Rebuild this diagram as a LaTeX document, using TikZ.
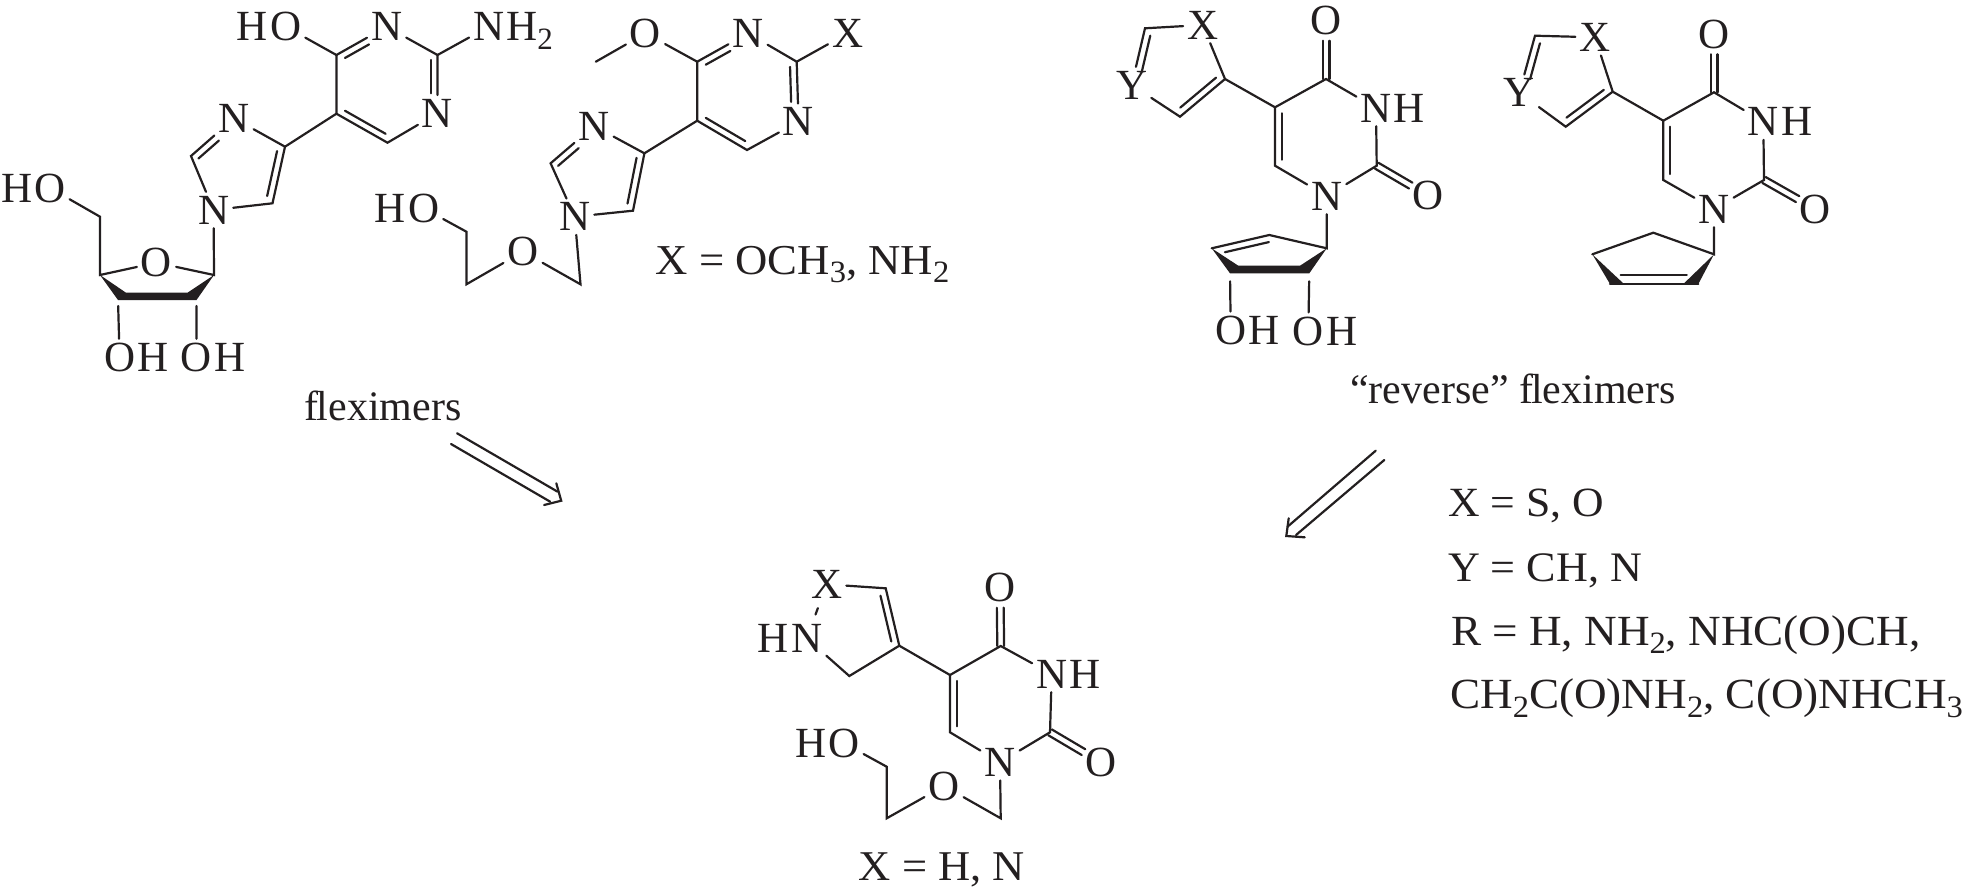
\documentclass[tikz,border=0pt]{standalone}
\usepackage{fontspec}
\usepackage{xcolor}
\usetikzlibrary{calc}
\setmainfont{Liberation Serif}
\newfontfamily\capsfamily[FakeStretch=1.05]{Liberation Serif}
\definecolor{chemink}{RGB}{35,31,32}
\newcommand{\chemfont}{\fontsize{21.5}{24}\selectfont}
\newcommand{\capsfont}[1]{\capsfamily\fontsize{#1}{24}\selectfont}
\newcommand{\chemsub}[1]{\raisebox{-4.3pt}{\fontsize{15.5}{16}\selectfont #1}}
% second line of a ring double bond: from, to, side angle, shorten at from, shorten at to
\newcommand{\dbond}[5]{\draw [shorten <=#4pt,shorten >=#5pt] ($(#1)!3.4pt!#3:(#2)$) -- ($(#2)!3.4pt!-#3:(#1)$);}
% carbonyl, two lines either side of the axis
\newcommand{\cbond}[2]{\draw [shorten >=10pt] ($(#1)!1.7pt!90:(#2)$) -- ($(#2)!1.7pt!-90:(#1)$);
\draw [shorten >=10pt] ($(#1)!1.7pt!-90:(#2)$) -- ($(#2)!1.7pt!90:(#1)$);}

\begin{document}
\begin{tikzpicture}[x=0.5pt,y=0.5pt,line width=1.1pt,line cap=round,color=chemink]
\tikzstyle{every node}+=[inner sep=1.5pt,font=\chemfont]
\tikzstyle{hleft}=[inner sep=0pt,anchor=base east]
\tikzstyle{hright}=[inner sep=0pt,anchor=base west]
\tikzstyle{caption}=[inner sep=0pt,anchor=base west]
\useasboundingbox (0,0) rectangle (1963,-894);

% fleximer with ribose
\node (aOa) at (285.7,-26.7) {O};
\node [hleft] (aHa) at ([xshift=1.5pt]aOa.base west) {H};
\node (aNa) at (386.6,-26.7) {N};
\node (aNb) at (488.7,-26.7) {N};
\node [hright] (aHb) at ([xshift=-1.5pt]aNb.base east) {H\chemsub{2}};
\node (aNc) at (437.5,-113.3) {N};
\coordinate (aC4) at (336.4,-55);
\coordinate (aC2) at (437.5,-55);
\coordinate (aC6) at (387.5,-142.7);
\coordinate (aC5) at (336.4,-113.7);
\coordinate (aCa) at (285,-146.7);
\node (aNd) at (234,-118.3) {N};
\coordinate (aCb) at (191,-156);
\node (aNe) at (213.6,-210) {N};
\coordinate (aCc) at (272.5,-203.3);
\coordinate (aS1) at (214,-275);
\node (aOb) at (156.5,-262.7) {O};
\coordinate (aS4) at (100,-275);
\coordinate (aS5) at (100,-216.7);
\node (aOc) at (50,-188) {O};
\node [hleft] (aHc) at ([xshift=1.5pt]aOc.base west) {H};
\coordinate (aS3) at (118,-300);
\coordinate (aS2) at (196.5,-300);
\coordinate (aS2i) at (187.5,-292.7);
\coordinate (aS3i) at (126,-292.7);
\node (aOd) at (119.6,-357.3) {O};
\node [hright] (aHd) at ([xshift=-1.5pt]aOd.base east) {H};
\node (aOe) at (196.4,-357.3) {O};
\node [hright] (aHe) at ([xshift=-1.5pt]aOe.base east) {H};
\draw (aOa) -- (aC4) -- (aNa) -- (aC2) -- (aNb);
\draw (aC2) -- (aNc) -- (aC6) -- (aC5) -- (aC4);
\draw (aC5) -- (aCa) -- (aNd) -- (aCb) -- (aNe) -- (aCc) -- (aCa);
\dbond{aC4}{aNa}{-90}{3}{12}
\dbond{aC2}{aNc}{-90}{2.5}{10}
\dbond{aC5}{aC6}{90}{3}{3}
\dbond{aNd}{aCb}{90}{13}{2}
\dbond{aCa}{aCc}{-90}{3}{3}
\draw (aNe) -- (aS1) -- (aOb) -- (aS4) -- (aS5) -- (aOc);
\fill (aS4) -- (aS3) -- (aS2) -- (aS1) -- (aS2i) -- (aS3i) -- cycle;
\draw [shorten <=3pt] (aS3) -- (aOd);
\draw [shorten <=3pt] (aS2) -- (aOe);

% fleximer with open chain
\node (bOa) at (645.5,-33.3) {O};
\coordinate (bMe) at (595.8,-61.7);
\node (bNa) at (748,-33.3) {N};
\node (bX) at (847.6,-33.3) {X};
\coordinate (bC4) at (697.2,-61.7);
\coordinate (bC2) at (796.7,-61.7);
\node (bNb) at (798.5,-121.7) {N};
\coordinate (bC6) at (747,-150);
\coordinate (bC5) at (697.2,-120.7);
\coordinate (bCa) at (644.4,-153.3);
\node (bNc) at (594,-126) {N};
\coordinate (bCb) at (550.6,-163.3);
\node (bNd) at (574.7,-216.7) {N};
\coordinate (bCc) at (633,-210.7);
\coordinate (bCd) at (580.5,-284.3);
\node (bOb) at (523,-251.7) {O};
\coordinate (bCe) at (466.4,-284.3);
\coordinate (bCf) at (466.4,-231.7);
\node (bOc) at (423.6,-208.3) {O};
\node [hleft] (bH) at ([xshift=1.5pt]bOc.base west) {H};
\draw (bMe) -- (bOa) -- (bC4) -- (bNa) -- (bC2) -- (bX);
\draw (bC2) -- (bNb) -- (bC6) -- (bC5) -- (bC4);
\draw (bC5) -- (bCa) -- (bNc) -- (bCb) -- (bNd) -- (bCc) -- (bCa);
\dbond{bC4}{bNa}{-90}{3}{12}
\dbond{bC2}{bNb}{-90}{2.5}{10}
\dbond{bC5}{bC6}{90}{3}{3}
\dbond{bNc}{bCb}{90}{13}{2}
\dbond{bCa}{bCc}{-90}{3}{3}
\draw (bNd) -- (bCd) -- (bOb) -- (bCe) -- (bCf) -- (bOc);
\node [caption,font=\capsfont{21.3}] (bText) at (654.5,-274) {X = OCH\chemsub{3}, NH\chemsub{2}};

% reverse fleximer with diol
\node (cX) at (1202.7,-25) {X};
\coordinate (cCa) at (1145,-28.3);
\node (cY) at (1131.7,-85) {Y};
\coordinate (cCb) at (1180,-116.7);
\coordinate (cCc) at (1225,-79);
\coordinate (cC5) at (1275,-107.3);
\coordinate (cC4) at (1326,-79);
\node (cOa) at (1326,-20.7) {O};
\node (cNa) at (1376,-108) {N};
\node [hright] (cHa) at ([xshift=-1.5pt]cNa.base east) {H};
\coordinate (cC2) at (1376.7,-165.7);
\node (cOb) at (1428,-195.7) {O};
\node (cNb) at (1326.7,-196) {N};
\coordinate (cC6) at (1275,-165.7);
\coordinate (cR1) at (1326.7,-248.3);
\coordinate (cR2) at (1269.3,-235);
\coordinate (cR3) at (1211.7,-248.3);
\coordinate (cR4) at (1230,-273.3);
\coordinate (cR5) at (1309.3,-273.3);
\coordinate (cR5i) at (1300,-265.7);
\coordinate (cR4i) at (1238.3,-265.7);
\node (cOc) at (1230.7,-330) {O};
\node [hright] (cHb) at ([xshift=-1.5pt]cOc.base east) {H};
\node (cOd) at (1308.3,-331) {O};
\node [hright] (cHc) at ([xshift=-1.5pt]cOd.base east) {H};
\draw (cX) -- (cCa) -- (cY) -- (cCb) -- (cCc) -- (cX);
\draw (cCc) -- (cC5) -- (cC4) -- (cNa) -- (cC2) -- (cNb) -- (cC6) -- (cC5);
\dbond{cCa}{cY}{90}{3}{8}
\dbond{cCc}{cCb}{-90}{3}{3}
\dbond{cC5}{cC6}{90}{3}{3}
\cbond{cC4}{cOa}
\cbond{cC2}{cOb}
\draw (cNb) -- (cR1) -- (cR2) -- (cR3);
\dbond{cR3}{cR2}{-90}{6}{1}
\fill (cR3) -- (cR4) -- (cR5) -- (cR1) -- (cR5i) -- (cR4i) -- cycle;
\draw [shorten <=4pt] (cR4) -- (cOc);
\draw [shorten <=4pt] (cR5) -- (cOd);

% reverse fleximer with cyclopentene
\node (dX) at (1595,-37.3) {X};
\coordinate (dCa) at (1535,-35.7);
\node (dY) at (1519.3,-92.7) {Y};
\coordinate (dCb) at (1565.7,-126.7);
\coordinate (dCc) at (1612.7,-91.7);
\coordinate (dC5) at (1663.3,-120.7);
\coordinate (dC4) at (1714,-92.3);
\node (dOa) at (1714,-34.3) {O};
\node (dNa) at (1763.3,-121.7) {N};
\node [hright] (dH) at ([xshift=-1.5pt]dNa.base east) {H};
\coordinate (dC2) at (1764,-180);
\node (dOb) at (1815,-209) {O};
\node (dNb) at (1714,-209) {N};
\coordinate (dC6) at (1663.3,-180);
\coordinate (dR1) at (1714,-254.3);
\coordinate (dR2) at (1653.3,-232.7);
\coordinate (dR3) at (1592.3,-254.3);
\coordinate (dR4) at (1610,-284);
\coordinate (dR4i) at (1624,-284);
\coordinate (dR5) at (1698.3,-284);
\coordinate (dR5i) at (1683.3,-284);
\coordinate (dR6) at (1620.7,-274.7);
\coordinate (dR7) at (1686.7,-274.7);
\draw (dX) -- (dCa) -- (dY) -- (dCb) -- (dCc) -- (dX);
\draw (dCc) -- (dC5) -- (dC4) -- (dNa) -- (dC2) -- (dNb) -- (dC6) -- (dC5);
\dbond{dCa}{dY}{90}{3}{8}
\dbond{dCc}{dCb}{-90}{3}{3}
\dbond{dC5}{dC6}{90}{3}{3}
\cbond{dC4}{dOa}
\cbond{dC2}{dOb}
\draw (dNb) -- (dR1) -- (dR2) -- (dR3);
\fill (dR3) -- (dR4) -- (dR4i) -- cycle;
\fill (dR1) -- (dR5) -- (dR5i) -- cycle;
\draw (dR4) -- (dR5);
\draw (dR6) -- (dR7);

% target
\node (eX) at (826.7,-584.3) {X};
\coordinate (eCa) at (885.7,-588.3);
\coordinate (eCb) at (899.3,-645.7);
\coordinate (eCc) at (849.3,-676);
\node (eNa) at (806.7,-638.3) {N};
\node [hleft] (eHa) at ([xshift=1.5pt]eNa.base west) {H};
\coordinate (eC5) at (950,-675);
\coordinate (eC4) at (1000.7,-646);
\node (eOa) at (1000,-587.7) {O};
\node (eNb) at (1051.7,-674) {N};
\node [hright] (eHb) at ([xshift=-1.5pt]eNb.base east) {H};
\coordinate (eC2) at (1050,-732.3);
\node (eOb) at (1100.7,-762.3) {O};
\node (eNc) at (1000,-762.3) {N};
\coordinate (eC6) at (950,-732.3);
\coordinate (eCd) at (1000.7,-818.3);
\node (eOc) at (944,-786) {O};
\coordinate (eCe) at (886.7,-818.3);
\coordinate (eCf) at (886.7,-766.7);
\node (eOd) at (844,-743.3) {O};
\node [hleft] (eHc) at ([xshift=1.5pt]eOd.base west) {H};
\draw (eX) -- (eCa) -- (eCb) -- (eCc) -- (eNa);
\draw [shorten <=3pt,shorten >=3pt] (eX) -- (eNa);
\draw (eCb) -- (eC5) -- (eC4) -- (eNb) -- (eC2) -- (eNc) -- (eC6) -- (eC5);
\dbond{eCa}{eCb}{-90}{3}{3}
\dbond{eC5}{eC6}{90}{3}{3}
\cbond{eC4}{eOa}
\cbond{eC2}{eOb}
\draw (eNc) -- (eCd) -- (eOc) -- (eCe) -- (eCf) -- (eOd);
\node [inner sep=0pt,anchor=base,font=\capsfont{21.2}] (eText) at (942,-880) {X = H, N};

% labels
\node [inner sep=0pt,anchor=base,font=\fontsize{21}{24}\selectfont] (capA) at (383,-420) {f\kern-1pt leximers};
\node [inner sep=0pt,anchor=base,font=\fontsize{21}{24}\selectfont] (capB) at (1513,-403.3) {“reverse” f\kern-1pt leximers};
\node [caption,font=\capsfont{20.8}] (capC) at (1447,-516) {X = S, O};
\node [caption,font=\capsfont{21}] (capD) at (1447,-581) {Y = CH, N};
\node [caption,font=\capsfont{21.5}] (capE) at (1450,-645) {R = H, NH\chemsub{2}, NHC(O)CH,};
\node [caption,font=\capsfont{21.5}] (capF) at (1449,-708.5) {CH\chemsub{2}C(O)NH\chemsub{2}, C(O)NHCH\chemsub{3}};

% arrows
\coordinate (pA1) at (457.1,-433.3);
\coordinate (pA2) at (557.6,-491.7);
\coordinate (pA3) at (451,-444);
\coordinate (pA4) at (550.2,-501.7);
\coordinate (pA5) at (556.3,-483.3);
\coordinate (pA6) at (561.2,-500.7);
\coordinate (pA7) at (544.1,-505);
\draw (pA1) -- (pA2);
\draw (pA3) -- (pA4);
\draw (pA5) -- (pA6) -- (pA7);
\coordinate (pB1) at (1375.7,-450.7);
\coordinate (pB2) at (1287.5,-526.7);
\coordinate (pB3) at (1384.3,-460);
\coordinate (pB4) at (1296,-535);
\coordinate (pB5) at (1288.7,-518.3);
\coordinate (pB6) at (1286.3,-536);
\coordinate (pB7) at (1304.7,-537.3);
\draw (pB1) -- (pB2);
\draw (pB3) -- (pB4);
\draw (pB5) -- (pB6) -- (pB7);
\end{tikzpicture}
\end{document}
